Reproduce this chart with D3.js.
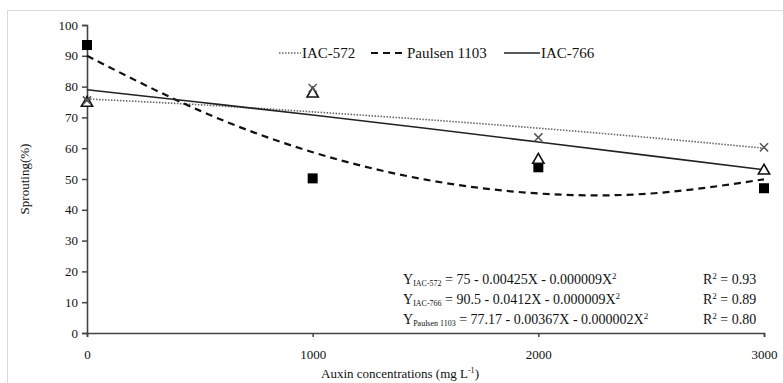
<!DOCTYPE html>
<html>
<head>
<meta charset="utf-8">
<script src="https://cdn.jsdelivr.net/npm/d3@7"></script>
<style>
  body { margin: 0; background: #fff; }
  svg text { font-family: "Liberation Serif", "Times New Roman", "DejaVu Serif", serif; fill: #111; }
</style>
</head>
<body>
<div id="chart"></div>
<script>
"use strict";
// observed points
const doses = [0, 1000, 2000, 3000];
const iac572 = [75.5, 79.5, 63.5, 60.3];
const iac766 = [75, 78, 56.5, 53];
const paulsen = [93.5, 50.2, 53.8, 47];

// trend lines
const trendX = [0, 500, 1000, 1500, 2000, 2500, 3000];
const trend572 = [76, 74.1, 71.8, 69.3, 66.5, 63.4, 60];
const trend766 = [79, 74.9, 70.8, 66.5, 62, 57.5, 53];
const trendPaulsen = [90, 72.2, 58.7, 49.8, 45.3, 45.3, 49.9];

const yTicks = [0, 10, 20, 30, 40, 50, 60, 70, 80, 90, 100];
const xTicks = [0, 1000, 2000, 3000];

const equations = [
	{ sub: "IAC-572", rest: " = 75 - 0.00425X - 0.000009X", r2: "0.93" },
	{ sub: "IAC-766", rest: " = 90.5 - 0.0412X - 0.000009X", r2: "0.89" },
	{ sub: "Paulsen 1103", rest: " = 77.17 - 0.00367X - 0.000002X", r2: "0.80" }
];

const W = 783, H = 383;
const serif = "'Liberation Serif', 'Times New Roman', serif";
const svg = d3.select("#chart").append("svg")
	.attr("width", W)
	.attr("height", H);

// outer frame
svg.append("rect")
	.attr("x", 7.5).attr("y", 10.5)
	.attr("width", W).attr("height", H)
	.style("fill", "none")
	.style("stroke", "#d9d9d9");

const x = d3.scaleLinear().domain([0, 3000]).range([87, 764]);
const y = d3.scaleLinear().domain([0, 100]).range([333, 25]);

// y axis
const yAxis = svg.append("g")
	.attr("transform", "translate(" + x(0) + ",0)")
	.call(d3.axisLeft(y).tickValues(yTicks).tickSize(5).tickPadding(4));
yAxis.attr("font-family", null);
yAxis.select(".domain").style("stroke", "#444").style("stroke-width", "1.6px");
yAxis.selectAll(".tick line").style("stroke", "#444").style("stroke-width", "1.5px");
yAxis.selectAll(".tick text").style("font-size", "13px").style("font-family", serif);

// x axis
const xAxis = svg.append("g")
	.attr("transform", "translate(0," + y(0) + ")")
	.call(d3.axisBottom(x).tickValues(xTicks).tickSize(4).tickPadding(13).tickFormat(d3.format("d")));
xAxis.attr("font-family", null);
xAxis.select(".domain").style("stroke", "#444").style("stroke-width", "1.6px");
xAxis.selectAll(".tick line").style("stroke", "#444").style("stroke-width", "1.5px");
xAxis.selectAll(".tick text").style("font-size", "13px").style("font-family", serif);

// axis titles
svg.append("text")
	.attr("transform", "translate(29," + y(50) + ") rotate(-90)")
	.attr("text-anchor", "middle")
	.style("font-size", "13px")
	.style("font-family", serif)
	.text("Sprouting(%)");

const xTitle = svg.append("text")
	.attr("x", 400).attr("y", 378)
	.attr("text-anchor", "middle")
	.style("font-size", "13px")
	.style("font-family", serif);
xTitle.append("tspan").text("Auxin concentrations (mg L");
xTitle.append("tspan").attr("dy", -5).style("font-size", "8px").text("-1");
xTitle.append("tspan").attr("dy", 5).text(")");

// trend lines
const line = d3.line()
	.x(function (d) { return x(d[0]); })
	.y(function (d) { return y(d[1]); })
	.curve(d3.curveNatural);

function trend(values, dash, color, width) {
	svg.append("path")
		.datum(trendX.map(function (t, i) { return [t, values[i]]; }))
		.attr("d", line)
		.style("fill", "none")
		.style("stroke", color)
		.style("stroke-width", width)
		.style("stroke-dasharray", dash);
}
trend(trend572, "1.5,1.5", "#666", "1.6px");
trend(trendPaulsen, "7,5", "#111", "2.2px");
trend(trend766, null, "#222", "1.6px");

// markers
svg.selectAll(".sq").data(doses).enter().append("rect")
	.attr("x", function (d) { return x(d) - 5; })
	.attr("y", function (d, i) { return y(paulsen[i]) - 5; })
	.attr("width", 10).attr("height", 10)
	.style("fill", "#000");

const tri = d3.symbol().type(d3.symbolTriangle).size(55);
svg.selectAll(".tri").data(doses).enter().append("path")
	.attr("d", tri)
	.attr("transform", function (d, i) { return "translate(" + x(d) + "," + (y(iac766[i]) + 1) + ")"; })
	.style("fill", "#fff")
	.style("stroke", "#111")
	.style("stroke-width", "1.6px");

const cross = d3.symbol().type(d3.symbolX).size(45);
svg.selectAll(".cr").data(doses).enter().append("path")
	.attr("d", cross)
	.attr("transform", function (d, i) { return "translate(" + x(d) + "," + y(iac572[i]) + ")"; })
	.style("fill", "none")
	.style("stroke", "#555")
	.style("stroke-width", "1.5px");

// legend
const legend = [
	{ name: "IAC-572", x1: 279, x2: 301, dash: "1.5,1.5", color: "#666", w: "1.6px" },
	{ name: "Paulsen 1103", x1: 371, x2: 406, dash: "7,5", color: "#111", w: "2.2px" },
	{ name: "IAC-766", x1: 504, x2: 540, dash: null, color: "#222", w: "1.6px" }
];
const ly = 53;
legend.forEach(function (l) {
	svg.append("line")
		.attr("x1", l.x1).attr("x2", l.x2)
		.attr("y1", ly).attr("y2", ly)
		.style("stroke", l.color)
		.style("stroke-width", l.w)
		.style("stroke-dasharray", l.dash);
	svg.append("text")
		.attr("x", l.x2 + 1).attr("y", ly + 5)
		.style("font-size", "15px")
		.style("font-family", serif)
		.text(l.name);
});

// regression equations
equations.forEach(function (e, i) {
	const by = 284 + i * 20;
	const t = svg.append("text").attr("x", 403).attr("y", by)
		.style("font-size", "14px").style("font-family", serif);
	t.append("tspan").text("Y");
	t.append("tspan").attr("dy", 2).style("font-size", "8px").text(e.sub);
	t.append("tspan").attr("dy", -2).text(e.rest);
	t.append("tspan").attr("dy", -5).style("font-size", "9px").text("2");
	const r = svg.append("text").attr("x", 703).attr("y", by)
		.style("font-size", "14px").style("font-family", serif);
	r.append("tspan").text("R");
	r.append("tspan").attr("dy", -5).style("font-size", "9px").text("2");
	r.append("tspan").attr("dy", 5).text(" = " + e.r2);
});
</script>
</body>
</html>
